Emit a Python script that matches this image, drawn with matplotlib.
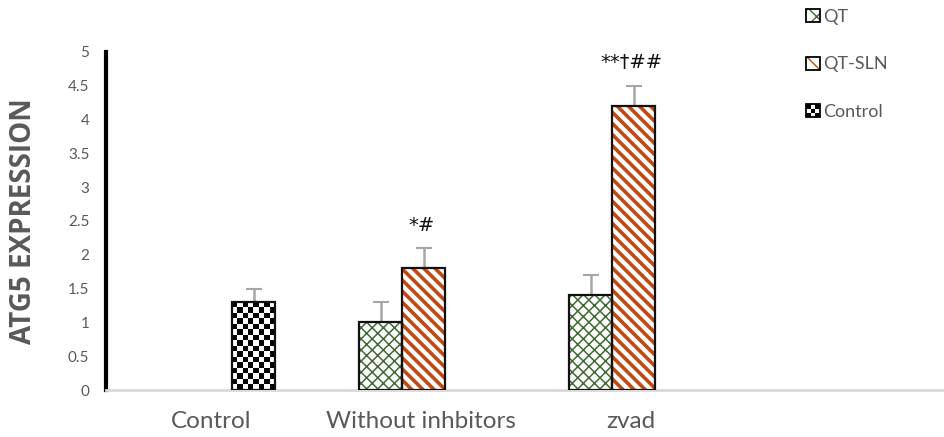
import numpy as np
import matplotlib
matplotlib.use("Agg")
import matplotlib.pyplot as plt
from matplotlib.patches import Rectangle
from matplotlib.legend_handler import HandlerBase

plt.rcParams['font.family'] = ['Lato', 'DejaVu Sans']

categories = ["Control", "Without inhbitors", "zvad", ""]
series_names = ["QT", "QT-SLN", "Control"]
qt_vals = [np.nan, 1.0, 1.4, np.nan]
qt_err = [0, 0.3, 0.3, 0]
qtsln_vals = [np.nan, 1.8, 4.2, np.nan]
qtsln_err = [0, 0.3, 0.3, 0]
ctrl_vals = [1.3, np.nan, np.nan, np.nan]
ctrl_err = [0.2, 0, 0, 0]
annotations = ["", "*#", "**\u2020##", ""]
yticks = [0, 0.5, 1, 1.5, 2, 2.5, 3, 3.5, 4, 4.5, 5]

GRAY = '#595959'
ERR = '#A6A6A6'
GREEN = '#3F6A34'
ORANGE = '#C24A12'
W = 0.205
offsets = [-0.19, 0.015, 0.205]


def set_hlw(patch, lw):
    try:
        patch.set_hatch_linewidth(lw)
    except Exception:
        pass


fig = plt.figure(figsize=(9.45, 4.37), dpi=100)
ax = fig.add_axes([106/945, 1-390/437, 1-106/945, (390-52)/437])
x = np.arange(len(categories))

ekw = dict(ecolor=ERR, elinewidth=1.8, capsize=5.5, capthick=1.5)

with plt.rc_context({'hatch.linewidth': 1.1}):
    b_qt = ax.bar(x + offsets[0], qt_vals, W, color='white', edgecolor=GREEN,
                  linewidth=0, hatch='xxx', zorder=2)
for p in b_qt:
    set_hlw(p, 1.1)
ax.bar(x + offsets[0], qt_vals, W, color='none', edgecolor='#111111', linewidth=1.6, zorder=3)
ax.errorbar(x + offsets[0], qt_vals, yerr=[np.zeros(4), qt_err], fmt='none', zorder=1, **ekw)

with plt.rc_context({'hatch.linewidth': 2.6}):
    b_sln = ax.bar(x + offsets[1], qtsln_vals, W, color='white', edgecolor=ORANGE,
                   linewidth=0, hatch='\\\\\\', zorder=2)
for p in b_sln:
    set_hlw(p, 2.6)
ax.bar(x + offsets[1], qtsln_vals, W, color='none', edgecolor='#111111', linewidth=1.6, zorder=3)
ax.errorbar(x + offsets[1], qtsln_vals, yerr=[np.zeros(4), qtsln_err], fmt='none', zorder=1, **ekw)

b_ctrl = ax.bar(x + offsets[2], ctrl_vals, W, color='none', edgecolor='#111111',
                linewidth=1.6, zorder=3)
ax.errorbar(x + offsets[2], ctrl_vals, yerr=[np.zeros(4), ctrl_err], fmt='none', zorder=1, **ekw)

# checkerboard fill for control bars
for p in b_ctrl:
    h = p.get_height()
    if not np.isfinite(h) or h <= 0:
        continue
    x0 = p.get_x(); w = p.get_width()
    ncol = 8
    nrow = int(round(h * 67.6 / 5.5))
    cb = (np.add.outer(np.arange(nrow), np.arange(ncol)) % 2).astype(float)
    ax.imshow(cb, cmap='gray', extent=[x0, x0 + w, 0, h], aspect='auto',
              interpolation='nearest', zorder=2, vmin=0, vmax=1)

ax.set_xlim(-0.5, 3.5)
ax.set_ylim(0, 5)

for i, t in enumerate(annotations):
    if t:
        top = qtsln_vals[i] + qtsln_err[i]
        ax.text(x[i] + offsets[1] - 0.01, top + 0.34, t, ha='center', va='center',
                fontsize=14, color='#111111', family=['DejaVu Sans'])

ax.set_xticks(x)
ax.set_xticklabels(categories, fontsize=17.5, color=GRAY)
ax.set_yticks(yticks)
ax.set_yticklabels([f"{v:g}" for v in yticks], fontsize=11, color=GRAY)
ax.tick_params(axis='both', length=0)
ax.tick_params(axis='y', pad=12)
ax.tick_params(axis='x', pad=15)
for s in ['top', 'right']:
    ax.spines[s].set_visible(False)
ax.spines['left'].set_linewidth(3)
ax.spines['left'].set_color('black')
ax.spines['bottom'].set_color('#D9D9D9')
ax.spines['bottom'].set_linewidth(2)
ax.set_ylabel("ATG5 EXPRESSION", fontsize=20, fontweight='bold', color=GRAY,
              family=['Open Sans', 'DejaVu Sans'], va='center')
ax.yaxis.set_label_coords(-(106-24)/(945-106), 0.5)


class CheckerHandler(HandlerBase):
    def create_artists(self, legend, orig_handle, xdescent, ydescent, width, height,
                       fontsize, trans):
        s = min(width, height)
        x0 = -xdescent + (width - s) / 2
        y0 = -ydescent + (height - s) / 2
        arts = [Rectangle((x0, y0), s, s, facecolor='white', edgecolor='none',
                          transform=trans)]
        n = 3
        c = s / n
        for r in range(n):
            for q in range(n):
                if (r + q) % 2 == 0:
                    arts.append(Rectangle((x0 + q * c, y0 + r * c), c, c,
                                          facecolor='black', edgecolor='none',
                                          transform=trans))
        arts.append(Rectangle((x0, y0), s, s, facecolor='none', edgecolor='black',
                              linewidth=1.3, transform=trans))
        return arts


class SquareHandler(HandlerBase):
    def create_artists(self, legend, orig_handle, xdescent, ydescent, width, height,
                       fontsize, trans):
        s = min(width, height)
        x0 = -xdescent + (width - s) / 2
        y0 = -ydescent + (height - s) / 2
        r1 = Rectangle((x0, y0), s, s, facecolor='white',
                       edgecolor=orig_handle.get_edgecolor(), hatch=orig_handle.get_hatch(),
                       linewidth=0, transform=trans)
        r2 = Rectangle((x0, y0), s, s, facecolor='none', edgecolor='black',
                       linewidth=1.3, transform=trans)
        return [r1, r2]


h_qt = Rectangle((0, 0), 1, 1, facecolor='white', edgecolor=GREEN, hatch='xx')
h_sln = Rectangle((0, 0), 1, 1, facecolor='white', edgecolor=ORANGE, hatch='\\\\')
h_ctrl = Rectangle((0, 0), 1, 1, facecolor='white', edgecolor='black')
leg = fig.legend([h_qt, h_sln, h_ctrl], series_names, loc='upper left',
                 bbox_to_anchor=(790/945, 1.017), frameon=False, fontsize=13,
                 labelcolor=GRAY, handlelength=0.75, handleheight=0.75,
                 handletextpad=0.2, labelspacing=1.75,
                 handler_map={h_qt: SquareHandler(), h_sln: SquareHandler(),
                              h_ctrl: CheckerHandler()})

fig.savefig("out.png", dpi=100)
